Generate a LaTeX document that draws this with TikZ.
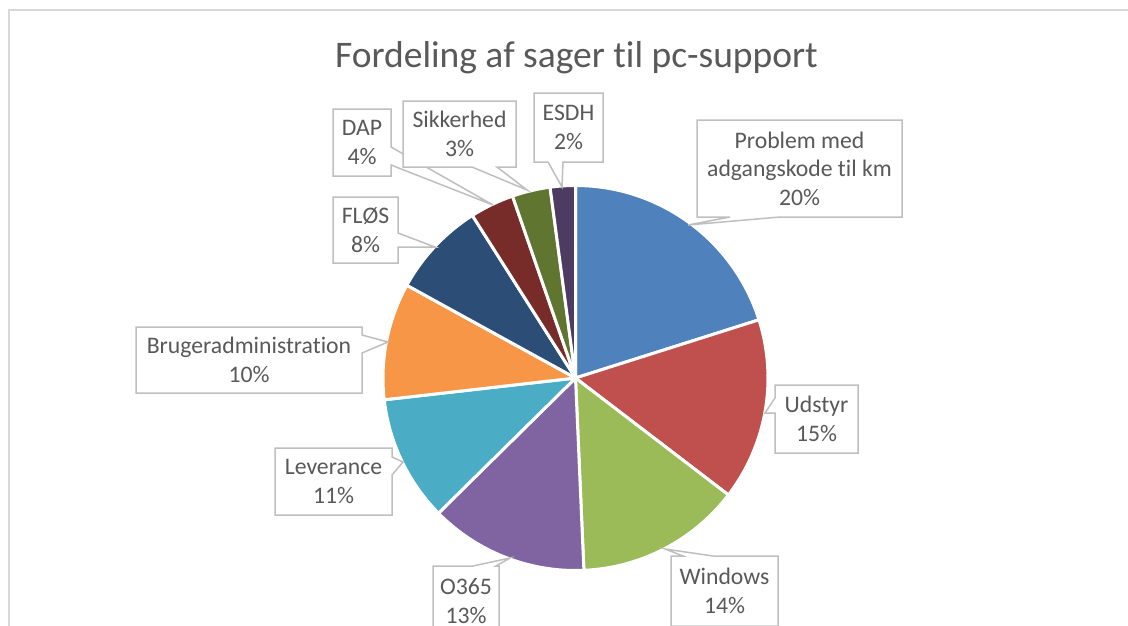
\documentclass[tikz,border=0pt]{standalone}
\usepackage{fontspec}
\setmainfont{Carlito}[Ligatures=NoCommon]
\usetikzlibrary{calc}
\definecolor{txt}{HTML}{595959}
\definecolor{lbledge}{HTML}{BFBFBF}
\definecolor{framec}{HTML}{D9D9D9}
\definecolor{cBlue}{HTML}{4F81BD}
\definecolor{cRed}{HTML}{C0504D}
\definecolor{cGreen}{HTML}{9BBB59}
\definecolor{cPurple}{HTML}{8064A2}
\definecolor{cAqua}{HTML}{4BACC6}
\definecolor{cOrange}{HTML}{F79646}
\definecolor{cNavy}{HTML}{2C4D75}
\definecolor{cDarkRed}{HTML}{772C2A}
\definecolor{cOlive}{HTML}{5F7530}
\definecolor{cDarkPurple}{HTML}{4D3B62}
\pgfdeclarelayer{pielayer}
\pgfdeclarelayer{calloutlayer}
\pgfsetlayers{pielayer,calloutlayer,main}
\begin{document}
\begin{tikzpicture}[x=1pt,y=-1pt,
  lbl/.style={draw=none, align=center, text=txt, font=\fontsize{23.7}{28.5}\selectfont, inner sep=0pt, outer sep=0pt},
  calloutshape/.style={fill=white, draw=lbledge, line width=1.5pt, line join=miter},
  slicestyle/.style={draw=white, line width=3pt, line join=round},
  titlestyle/.style={text=txt, font=\fontsize{37.5}{45}\selectfont, inner sep=0pt}]
\useasboundingbox (0,0) rectangle (1128,625);
\clip (0,0) rectangle (1128,625);
\begin{pgfonlayer}{pielayer}
\fill[white] (0,0) rectangle (1128,625);
\end{pgfonlayer}
\draw[framec, line width=1.5pt] (9,640) -- (9,10) -- (1140,10);

\node[titlestyle, anchor=base] (title) at (576.5,67) {Fordeling af sager til pc-support};

% pie
\coordinate (c) at (575.5,378);
\newcommand\pieslice[3]{\path[fill=#3, slicestyle] (c) -- ++(#1:192.5) arc[start angle=#1, end angle=#2, radius=192.5] -- cycle;}
\begin{pgfonlayer}{pielayer}
\pieslice{-90}{-17.6}{cBlue}
\pieslice{-17.6}{37.4}{cRed}
\pieslice{37.4}{87.5}{cGreen}
\pieslice{87.5}{135.4}{cPurple}
\pieslice{135.4}{173.5}{cAqua}
\pieslice{173.5}{208.8}{cOrange}
\pieslice{208.8}{237.6}{cNavy}
\pieslice{237.6}{250.9}{cDarkRed}
\pieslice{250.9}{262.4}{cOlive}
\pieslice{262.4}{270}{cDarkPurple}
\end{pgfonlayer}

% label nodes
\node[lbl, minimum width=205, minimum height=97] (prob) at (799.5,168.5) {Problem med\\adgangskode til km\\20\%};
\node[lbl, minimum width=83, minimum height=68] (udstyr) at (816.5,419) {Udstyr\\15\%};
\node[lbl, minimum width=107, minimum height=70] (windows) at (724.5,591) {Windows\\14\%};
\node[lbl, minimum width=66, minimum height=70] (o365) at (466,601) {O365\\13\%};
\node[lbl, minimum width=117, minimum height=67] (lev) at (333.5,481.5) {Leverance\\11\%};
\node[lbl, minimum width=226, minimum height=66] (bruger) at (249,360) {Brugeradministration\\10\%};
\node[lbl, minimum width=65, minimum height=66] (flos) at (365.5,230) {FLØS\\8\%};
\node[lbl, minimum width=58, minimum height=67] (dap) at (362,142.5) {DAP\\4\%};
\node[lbl, minimum width=113, minimum height=66] (sik) at (459.5,134) {Sikkerhed\\3\%};
\node[lbl, minimum width=69, minimum height=69] (esdh) at (568.5,127.5) {ESDH\\2\%};

% callout tips
\coordinate (probT) at (688,225);
\coordinate (udstyrT) at (765,413);
\coordinate (windowsT) at (665,549);
\coordinate (o365T) at (510,558);
\coordinate (levT) at (403,462);
\coordinate (brugerT) at (388,342);
\coordinate (flosT) at (435,247);
\coordinate (dapT) at (493,205);
\coordinate (sikT) at (527,190);
\coordinate (esdhT) at (562,187);

\begin{pgfonlayer}{calloutlayer}
\draw[calloutshape] (prob.north west) -- (prob.north east) -- (prob.south east) -- ($(prob.south west)+(83,0)$) -- (probT) -- ($(prob.south west)+(33,0)$) -- (prob.south west) -- cycle;
\draw[calloutshape] (udstyr.north west) -- (udstyr.north east) -- (udstyr.south east) -- (udstyr.south west) -- ($(udstyr.north west)+(0,28)$) -- (udstyrT) -- ($(udstyr.north west)+(0,13)$) -- cycle;
\draw[calloutshape] (windows.north west) -- ($(windows.north west)+(12,0)$) -- (windowsT) -- ($(windows.north west)+(42,0)$) -- (windows.north east) -- (windows.south east) -- (windows.south west) -- cycle;
\draw[calloutshape] (o365.north west) -- ($(o365.north west)+(40,0)$) -- (o365T) -- ($(o365.north west)+(63,0)$) -- (o365.north east) -- (o365.south east) -- (o365.south west) -- cycle;
\draw[calloutshape] (lev.north west) -- (lev.north east) -- ($(lev.north east)+(0,9)$) -- (levT) -- ($(lev.north east)+(0,27)$) -- (lev.south east) -- (lev.south west) -- cycle;
\draw[calloutshape] (bruger.north west) -- (bruger.north east) -- ($(bruger.north east)+(0,8)$) -- (brugerT) -- ($(bruger.north east)+(0,26)$) -- (bruger.south east) -- (bruger.south west) -- cycle;
\draw[calloutshape] (flos.north west) -- (flos.north east) -- ($(flos.north east)+(0,36)$) -- (flosT) -- ($(flos.north east)+(0,50)$) -- (flos.south east) -- (flos.south west) -- cycle;
\draw[calloutshape] (dap.north west) -- (dap.north east) -- ($(dap.north east)+(0,38)$) -- (dapT) -- ($(dap.north east)+(0,56)$) -- (dap.south east) -- (dap.south west) -- cycle;
\draw[calloutshape] (sik.north west) -- (sik.north east) -- (sik.south east) -- ($(sik.south west)+(94,0)$) -- (sikT) -- ($(sik.south west)+(69,0)$) -- (sik.south west) -- cycle;
\draw[calloutshape] (esdh.north west) -- (esdh.north east) -- (esdh.south east) -- ($(esdh.south west)+(29,0)$) -- (esdhT) -- ($(esdh.south west)+(14,0)$) -- (esdh.south west) -- cycle;
\end{pgfonlayer}
\end{tikzpicture}
\end{document}
